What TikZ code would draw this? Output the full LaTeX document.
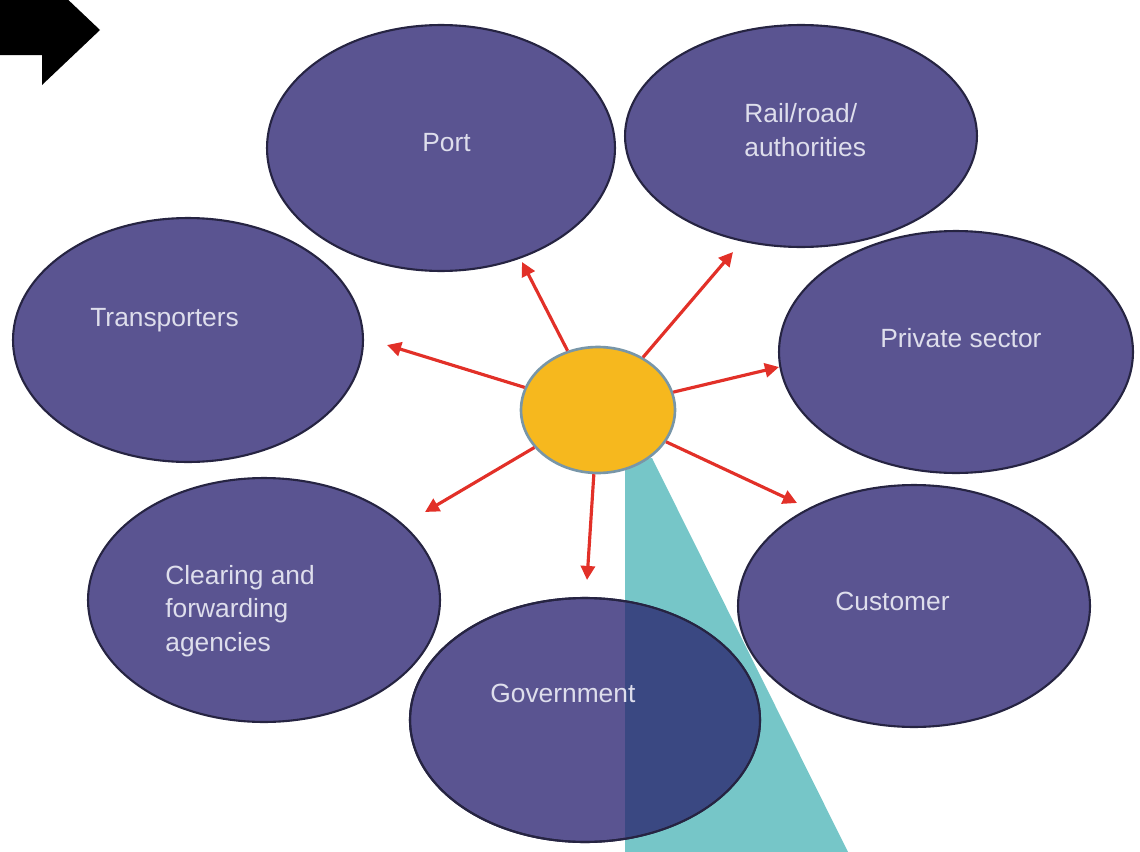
\documentclass[tikz,border=0pt]{standalone}
\usepackage{fontspec}
\setmainfont{Liberation Sans}
\usetikzlibrary{shapes.geometric,arrows.meta}
\definecolor{bubble}{RGB}{90,84,145}
\definecolor{bubbleline}{RGB}{38,36,66}
\definecolor{bubbletext}{RGB}{222,222,236}
\definecolor{sun}{RGB}{246,184,30}
\definecolor{sunline}{RGB}{120,150,168}
\definecolor{beam}{RGB}{118,198,200}
\definecolor{beamdark}{RGB}{58,72,130}
\definecolor{ray}{RGB}{226,48,40}
\tikzset{
  bubblenode/.style={ellipse, draw=bubbleline, line width=1.2pt, fill=bubble, inner sep=0pt},
  bubblelabel/.style={anchor=west, text=bubbletext, font=\fontsize{15}{19}\selectfont, align=left, inner sep=0pt},
  raypath/.style={draw=ray, line width=1.8pt, -{Triangle[length=8pt,width=8pt]}},
}
\begin{document}
\begin{tikzpicture}[x=0.02cm,y=-0.02cm]
\useasboundingbox (0,0) rectangle (1140,852);
\clip (0,0) rectangle (1140,852);

% block arrow in the corner
\fill[black] (0,-30) -- (42,-30) -- (42,-25) -- (100,30) -- (42,85) -- (42,55) -- (0,55) -- cycle;

% light beam falling from the sun
\fill[beam] (625,462) -- (652,458) -- (848,852) -- (625,852) -- cycle;

% outer bubbles
\node[bubblenode, minimum width=6.96cm, minimum height=4.92cm] (port) at (441,148) {};
\node[bubblenode, minimum width=7.04cm, minimum height=4.44cm] (rail) at (801,136) {};
\node[bubblenode, minimum width=7.00cm, minimum height=4.88cm] (trans) at (188,340) {};
\node[bubblenode, minimum width=7.08cm, minimum height=4.84cm] (priv) at (956,352) {};
\node[bubblenode, minimum width=7.04cm, minimum height=4.88cm] (clear) at (264,600) {};
\node[bubblenode, minimum width=7.04cm, minimum height=4.84cm] (cust) at (914,606) {};
\node[bubblenode, minimum width=7.00cm, minimum height=4.88cm] (gov) at (585,720) {};

% beam seen through the lower bubble
\begin{scope}
  \clip (585,720) ellipse [x radius=174, y radius=121];
  \fill[beamdark] (625,462) -- (652,458) -- (848,852) -- (625,852) -- cycle;
\end{scope}
\draw[bubbleline, line width=1.2pt] (585,720) ellipse [x radius=175, y radius=122];

% labels
\node[bubblelabel] (portlabel) at (422,143) {Port};
\node[bubblelabel] (raillabel) at (744,130) {Rail/road/\\authorities};
\node[bubblelabel] (translabel) at (90,320) {Transporters};
\node[bubblelabel] (privlabel) at (880,338) {Private sector};
\node[bubblelabel] (clearlabel) at (165,611) {Clearing and\\forwarding\\agencies};
\node[bubblelabel] (custlabel) at (835,601) {Customer};
\node[bubblelabel] (govlabel) at (490,693) {Government};

% sun in the middle
\node[ellipse, draw=sunline, line width=1.5pt, fill=sun, minimum width=3.08cm, minimum height=2.52cm, inner sep=0pt] (sun) at (598,410) {};

% ray end points
\coordinate (tport) at (522,262);
\coordinate (trail) at (733,252);
\coordinate (ttrans) at (387,345);
\coordinate (tpriv) at (779,367);
\coordinate (tclear) at (425,512);
\coordinate (tgov) at (587,580);
\coordinate (tcust) at (797,503);

\draw[raypath] (sun) -- (tport);
\draw[raypath] (sun) -- (trail);
\draw[raypath] (sun) -- (ttrans);
\draw[raypath] (sun) -- (tpriv);
\draw[raypath] (sun) -- (tclear);
\draw[raypath] (sun) -- (tgov);
\draw[raypath] (sun) -- (tcust);
\end{tikzpicture}
\end{document}
